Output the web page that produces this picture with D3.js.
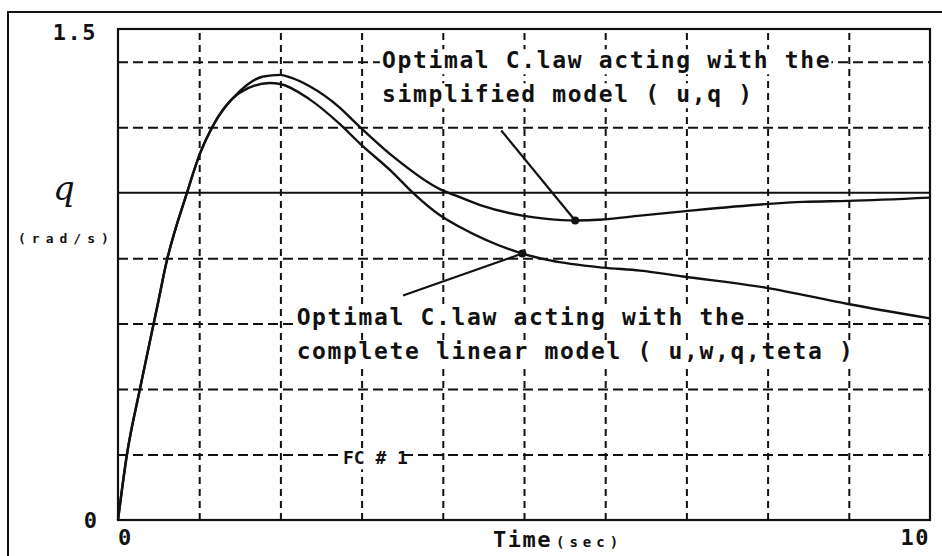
<!DOCTYPE html>
<html>
<head>
<meta charset="utf-8">
<script src="https://cdn.jsdelivr.net/npm/d3@7"></script>
<style>
    body { margin: 0; background: #fff; }
    svg text { font-family: "DejaVu Sans Mono", monospace; font-weight: bold; fill: #111; }
</style>
</head>
<body>
<div id="chart"></div>
<script>

// time (sec) and q (rad/s)
const timeA = [0, 0.11, 0.27, 0.49, 0.59, 0.85, 1.01, 1.16, 1.5, 1.79, 2.0, 2.12, 2.36, 2.73, 2.94, 3.39, 3.97, 4.17, 4.46, 4.98, 5.28, 5.63, 5.97, 6.43, 6.96, 7.97, 8.44, 8.99, 10];
const qA    = [0, 0.20, 0.40, 0.66, 0.78, 1.00, 1.12, 1.20, 1.31, 1.355, 1.36, 1.352, 1.325, 1.26, 1.21, 1.11, 1.01, 0.99, 0.962, 0.93, 0.92, 0.915, 0.918, 0.93, 0.943, 0.965, 0.972, 0.975, 0.985];

const timeB = [0, 0.11, 0.27, 0.49, 0.59, 0.85, 1.01, 1.16, 1.5, 1.87, 2.0, 2.36, 2.73, 2.98, 3.39, 3.63, 3.97, 4.21, 4.98, 5.32, 5.97, 6.43, 6.96, 7.97, 8.99, 10];
const qB    = [0, 0.20, 0.40, 0.66, 0.78, 1.00, 1.12, 1.20, 1.305, 1.335, 1.332, 1.285, 1.21, 1.15, 1.06, 1.0, 0.93, 0.895, 0.814, 0.793, 0.771, 0.762, 0.744, 0.71, 0.66, 0.616];

const gridX = [1, 2, 3, 4, 5, 6, 7, 8, 9];
const gridY = [0.2, 0.4, 0.6, 0.8, 1.2, 1.4];
const refQ = 1.0;

const xTickLabels = ['0', '10'];
const yTickLabels = ['0', '1.5'];

// annotations: [t, q] in data units
const noteA = { lines: ['Optimal C.law acting with the', 'simplified model ( u,q )'], at: [3.25, 1.38], from: [4.72, 1.19], to: [5.63, 0.915] };
const noteB = { lines: ['Optimal C.law acting with the', 'complete linear model ( u,w,q,teta )'], at: [2.2, 0.595], from: [3.51, 0.686], to: [4.98, 0.814] };
const caseLabel = { text: 'FC # 1', at: [2.77, 0.17] };

const svgWidth = 942;
const svgHeight = 556;

const plot = { left: 118, right: 930, top: 29, bottom: 520 };

const x = d3.scaleLinear().domain([0, 10]).range([plot.left, plot.right]);
const y = d3.scaleLinear().domain([0, 1.5]).range([plot.bottom, plot.top]);

const ink = '#111';

const svg = d3.select('#chart').append('svg')
    .attr('width', svgWidth)
    .attr('height', svgHeight);

// outer frame, runs off the page on the right and bottom
svg.append('rect')
    .attr('x', 8).attr('y', 12)
    .attr('width', 960).attr('height', 600)
    .attr('fill', 'none').attr('stroke', ink).attr('stroke-width', 2);

// grid
const gx = svg.append('g')
    .attr('transform', `translate(0,${plot.bottom})`)
    .call(d3.axisBottom(x).tickValues(gridX).tickSize(-(plot.bottom - plot.top)).tickFormat(''));

gx.select('.domain').remove();
gx.selectAll('line')
    .attr('stroke', ink).attr('stroke-width', 2).attr('stroke-dasharray', '7,5');

const gy = svg.append('g')
    .attr('transform', `translate(${plot.left},0)`)
    .call(d3.axisLeft(y).tickValues(gridY).tickSize(-(plot.right - plot.left)).tickFormat(''));

gy.select('.domain').remove();
gy.selectAll('line')
    .attr('stroke', ink).attr('stroke-width', 2).attr('stroke-dasharray', '10,5');

// reference line
svg.append('line')
    .attr('x1', plot.left).attr('x2', plot.right)
    .attr('y1', y(refQ)).attr('y2', y(refQ))
    .attr('stroke', ink).attr('stroke-width', 2);

// plot frame
svg.append('rect')
    .attr('x', plot.left).attr('y', plot.top)
    .attr('width', plot.right - plot.left).attr('height', plot.bottom - plot.top)
    .attr('fill', 'none').attr('stroke', ink).attr('stroke-width', 2.2);

// curves
const line = d3.line()
    .x(d => x(d[0]))
    .y(d => y(d[1]))
    .curve(d3.curveMonotoneX);

svg.append('path')
    .datum(d3.zip(timeA, qA))
    .attr('d', line)
    .attr('fill', 'none').attr('stroke', ink).attr('stroke-width', 2.4);

svg.append('path')
    .datum(d3.zip(timeB, qB))
    .attr('d', line)
    .attr('fill', 'none').attr('stroke', ink).attr('stroke-width', 2.4);

// annotations
const charW = 15.5;
const lineGap = 34;

[noteA, noteB].forEach(note => {

    const g = svg.append('g');

    note.lines.forEach((txt, i) => {
        var bx = x(note.at[0]);
        var by = y(note.at[1]) + i * lineGap;

        g.append('rect')
            .attr('x', bx - 2).attr('y', by - 19)
            .attr('width', txt.length * charW + 2).attr('height', 25)
            .attr('fill', '#fff');

        g.append('text')
            .attr('x', bx).attr('y', by)
            .style('font-size', '23px')
            .style('letter-spacing', '1.65px')
            .text(txt);
    });

    svg.append('line')
        .attr('x1', x(note.from[0])).attr('y1', y(note.from[1]))
        .attr('x2', x(note.to[0])).attr('y2', y(note.to[1]))
        .attr('stroke', ink).attr('stroke-width', 2.2);

    svg.append('circle')
        .attr('cx', x(note.to[0])).attr('cy', y(note.to[1]))
        .attr('r', 4).attr('fill', ink);
});

svg.append('rect')
    .attr('x', x(caseLabel.at[0]) - 3).attr('y', y(caseLabel.at[1]) - 15)
    .attr('width', 58).attr('height', 20)
    .attr('fill', '#fff');

svg.append('text')
    .attr('x', x(caseLabel.at[0])).attr('y', y(caseLabel.at[1]))
    .style('font-size', '18px')
    .text(caseLabel.text);

// tick labels
svg.append('text')
    .attr('x', 97).attr('y', 40)
    .attr('text-anchor', 'end')
    .style('font-size', '22px')
    .style('letter-spacing', '1.5px')
    .text(yTickLabels[1]);

svg.append('text')
    .attr('x', 97).attr('y', 528)
    .attr('text-anchor', 'end')
    .style('font-size', '22px')
    .text(yTickLabels[0]);

svg.append('text')
    .attr('x', x(0)).attr('y', 545)
    .style('font-size', '22px')
    .text(xTickLabels[0]);

svg.append('text')
    .attr('x', x(10)).attr('y', 545)
    .attr('text-anchor', 'end')
    .style('font-size', '22px')
    .style('letter-spacing', '1.5px')
    .text(xTickLabels[1]);

// axis titles
const xTitle = svg.append('text')
    .attr('x', 493).attr('y', 547);

xTitle.append('tspan')
    .style('font-size', '22px')
    .style('letter-spacing', '1.5px')
    .text('Time');

xTitle.append('tspan')
    .attr('dx', 4)
    .style('font-size', '14px')
    .style('letter-spacing', '5px')
    .text('(sec)');

svg.append('text')
    .attr('x', 64).attr('y', 200)
    .attr('text-anchor', 'middle')
    .style('font-family', '"DejaVu Serif", serif')
    .style('font-style', 'italic')
    .style('font-weight', 'normal')
    .style('font-size', '34px')
    .text('q');

svg.append('text')
    .attr('x', 18).attr('y', 243)
    .style('font-size', '13px')
    .style('letter-spacing', '6px')
    .text('(rad/s)');

</script>
</body>
</html>
